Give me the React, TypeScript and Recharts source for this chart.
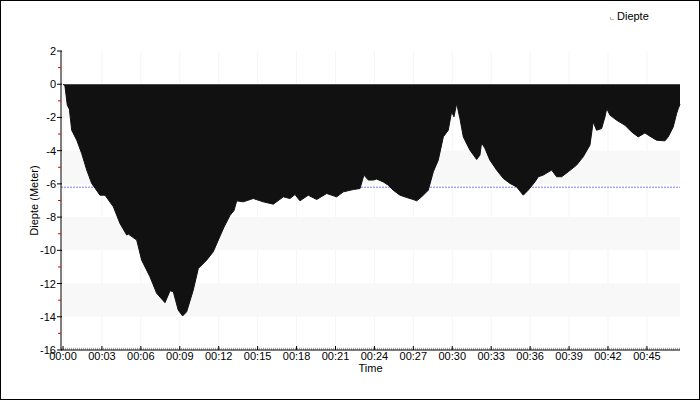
import {
  AreaChart,
  Area,
  XAxis,
  YAxis,
  CartesianGrid,
  ReferenceArea,
  ReferenceLine,
  Legend,
} from 'recharts'

// dive profile (time in minutes, depth in metres)
const minutes = [
  0, 0.15, 0.33, 0.49, 0.67, 1.06, 1.44, 1.83, 2.21, 2.85, 3.24, 3.88, 4.39, 4.91, 5.03,
  5.68, 6.06, 6.7, 7.22, 7.86, 8.25, 8.5, 8.88, 9.22, 9.53, 10.04, 10.43, 11.07, 11.58,
  11.97, 12.41, 12.87, 13.18, 13.39, 13.89, 14.66, 15.43, 16.21, 16.98, 17.49, 17.88,
  18.26, 18.9, 19.55, 20.32, 21.09, 21.6, 22.37, 22.89, 23.19, 23.53, 23.91, 24.17,
  24.68, 25.07, 25.45, 25.97, 26.49, 26.99, 27.26, 27.64, 28.15, 28.54, 28.92, 29.31,
  29.69, 29.95, 30.13, 30.34, 30.59, 30.85, 31.36, 31.88, 32.13, 32.26, 32.52, 32.9,
  33.42, 33.93, 34.45, 34.96, 35.47, 35.85, 36.37, 36.63, 37.01, 37.66, 38.04, 38.43,
  38.94, 39.58, 40.09, 40.61, 40.86, 41.12, 41.51, 41.77, 41.9, 42.15, 42.67, 43.31,
  43.82, 44.33, 44.85, 45.23, 45.75, 46.39, 46.64, 47.03, 47.29, 47.42, 47.55,
]
const depth = [
  0, -0.1, -1.26, -1.5, -2.77, -3.37, -4.17, -5.17, -5.97, -6.68, -6.68, -7.38, -8.38,
  -9.08, -9.02, -9.38, -10.59, -11.59, -12.59, -13.15, -12.43, -12.49, -13.6, -13.95,
  -13.7, -12.39, -11.09, -10.59, -10.09, -9.38, -8.6, -7.9, -7.6, -7.02, -7.08, -6.88,
  -7.08, -7.22, -6.78, -6.88, -6.64, -7.02, -6.68, -6.94, -6.58, -6.78, -6.48, -6.34,
  -6.28, -5.47, -5.77, -5.77, -5.71, -5.88, -6.08, -6.38, -6.68, -6.82, -6.94, -7.02,
  -6.78, -6.38, -5.27, -4.57, -3.17, -2.77, -1.66, -1.96, -1.16, -2.07, -3.17, -3.97,
  -4.53, -4.27, -3.53, -3.87, -4.57, -5.17, -5.67, -5.97, -6.18, -6.68, -6.38, -5.88,
  -5.57, -5.47, -5.17, -5.57, -5.57, -5.27, -4.87, -4.37, -3.67, -2.27, -2.77, -2.67,
  -1.96, -1.46, -1.86, -2.17, -2.47, -2.87, -3.17, -2.93, -3.13, -3.37, -3.41, -3.17,
  -2.57, -1.76, -1.46, -1.2,
]

const xTicks = [0, 3, 6, 9, 12, 15, 18, 21, 24, 27, 30, 33, 36, 39, 42, 45]
const yTicks = [2, 1, 0, -1, -2, -3, -4, -5, -6, -7, -8, -9, -10, -11, -12, -13, -14, -15, -16]
const bands = [
  [0, -2],
  [-4, -6],
  [-8, -10],
  [-12, -14],
]
const meanDepth = -6.2

const data = minutes.map((t, i) => ({ t, diepte: depth[i] }))

const fmtTime = (m: number) => `00:${String(m).padStart(2, '0')}`

function TimeTick({ x, y, payload }: any) {
  return (
    <g>
      <line x1={x} x2={x} y1={y - 4} y2={y} stroke="#000" />
      <text x={x} y={y + 10} textAnchor="middle" fontSize={11} fill="#000">
        {fmtTime(payload.value)}
      </text>
    </g>
  )
}

function DepthTick({ x, y, payload }: any) {
  const major = Math.abs(payload.value) % 2 === 0
  if (!major) {
    return <line x1={x - 3} x2={x} y1={y} y2={y} stroke="#e00000" />
  }
  return (
    <g>
      <line x1={x - 4} x2={x + 1} y1={y} y2={y} stroke="#000" />
      <text x={x - 5} y={y + 4} textAnchor="end" fontSize={11} fill="#000">
        {payload.value}
      </text>
    </g>
  )
}

function LegendBox() {
  return (
    <div style={{ display: 'flex', alignItems: 'center', fontSize: 11, color: '#000' }}>
      <span
        style={{
          width: 3,
          height: 2,
          borderLeft: '1px solid #bbb',
          borderBottom: '1px solid #bbb',
          marginRight: 3,
          marginTop: 5,
        }}
      />
      Diepte
    </div>
  )
}

export default function App() {
  return (
    <div
      style={{
        position: 'absolute',
        left: 0,
        top: 0,
        width: 700,
        height: 400,
        boxSizing: 'border-box',
        border: '1px solid #000',
        background: '#fff',
        fontFamily: '"Liberation Sans", Arial, sans-serif',
      }}
    >
      <AreaChart
        width={698}
        height={398}
        data={data}
        margin={{ top: 50, right: 19, bottom: 19, left: 20 }}
      >
        {bands.map(([a, b]) => (
          <ReferenceArea
            key={a}
            y1={a}
            y2={b}
            fill="#f8f8f8"
            fillOpacity={1}
            stroke="none"
            zIndex={-10}
          />
        ))}
        <CartesianGrid horizontal={false} stroke="#f5f5f5" verticalValues={xTicks} />
        <ReferenceLine
          y={meanDepth}
          stroke="#7c7cf2"
          strokeDasharray="2 1"
          strokeWidth={1}
          zIndex={-5}
        />
        <XAxis
          dataKey="t"
          type="number"
          domain={[0, 47.55]}
          ticks={xTicks}
          interval={0}
          padding={{ left: 2, right: 0 }}
          height={30}
          tickSize={0}
          tickMargin={0}
          tickLine={false}
          axisLine={{ stroke: '#000' }}
          tick={<TimeTick />}
          label={{ value: 'Time', position: 'insideBottom', offset: 8, fontSize: 11, fill: '#000' }}
        />
        <YAxis
          type="number"
          domain={[-16, 2]}
          ticks={yTicks}
          interval={0}
          width={40}
          tickSize={0}
          tickMargin={0}
          tickLine={false}
          axisLine={{ stroke: '#000' }}
          tick={<DepthTick />}
          allowDataOverflow
          label={{
            value: 'Diepte (Meter)',
            angle: -90,
            position: 'insideLeft',
            offset: 13,
            fontSize: 11,
            fill: '#000',
            style: { textAnchor: 'middle' },
          }}
        />
        <Legend
          layout="horizontal"
          verticalAlign="middle"
          content={<LegendBox />}
          wrapperStyle={{ top: 9, left: 609, width: 60 }}
        />
        <Area
          type="linear"
          dataKey="diepte"
          name="Diepte"
          baseValue={0}
          stroke="#111"
          strokeWidth={1}
          fill="#111"
          fillOpacity={1}
          dot={false}
          activeDot={false}
          isAnimationActive={false}
        />
        <ReferenceLine y={-15.93} stroke="#aaa" strokeWidth={2} strokeDasharray="1 1" />
      </AreaChart>
    </div>
  )
}
